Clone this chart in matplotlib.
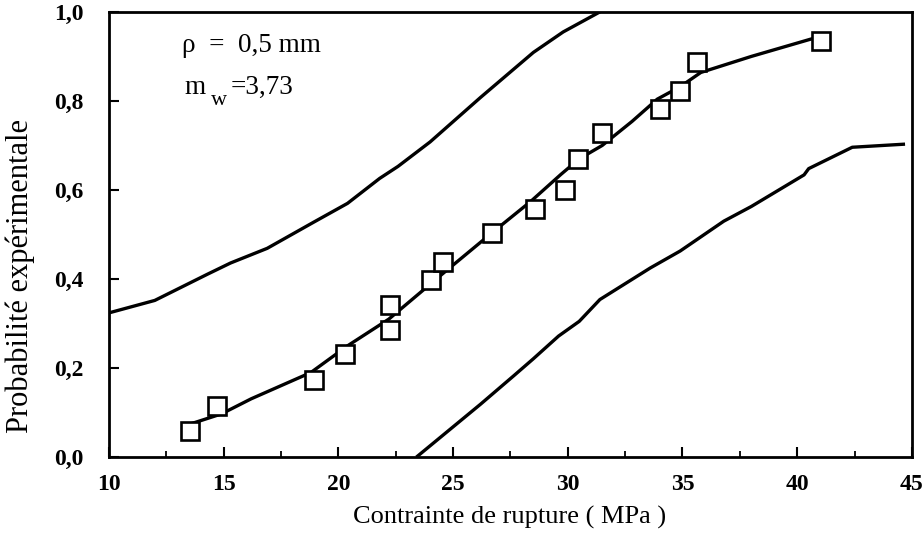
import matplotlib
matplotlib.use("Agg")
import matplotlib.pyplot as plt
from matplotlib.ticker import MultipleLocator, FuncFormatter

# Experimental points
exp_x = [13.52, 14.71, 18.93, 20.28, 22.23, 22.23, 24.06, 24.54, 26.68, 28.56,
         29.87, 30.45, 31.47, 34.02, 34.90, 35.65, 41.03]
exp_y = [0.059, 0.115, 0.173, 0.231, 0.286, 0.341, 0.398, 0.438, 0.504, 0.558,
         0.601, 0.670, 0.727, 0.781, 0.823, 0.887, 0.934]

# Fitted (middle) curve
fit_x = [13.4, 14.9, 16.2, 18.8, 20.4, 22.2, 24.5, 26.7, 28.4, 29.7, 30.5, 31.5,
         32.8, 33.9, 34.9, 35.8, 38.0, 41.0]
fit_y = [0.072, 0.097, 0.131, 0.190, 0.250, 0.310, 0.410, 0.504, 0.575, 0.635,
         0.670, 0.700, 0.754, 0.804, 0.832, 0.864, 0.900, 0.945]

# Upper bound curve
up_x = [10.0, 12.0, 14.3, 15.3, 16.9, 18.9, 20.4, 21.8, 22.6, 24.0, 26.2, 28.5, 29.8, 31.4]
up_y = [0.324, 0.352, 0.411, 0.436, 0.469, 0.527, 0.570, 0.626, 0.653, 0.708, 0.808,
        0.909, 0.955, 1.0]

# Lower bound curve
low_x = [23.4, 26.2, 27.65, 28.5, 29.6, 30.5, 31.4, 33.6, 34.9, 36.8, 38.0, 40.3,
         40.5, 42.4, 44.7]
low_y = [0.0, 0.119, 0.183, 0.221, 0.272, 0.305, 0.354, 0.425, 0.463, 0.530, 0.563,
         0.634, 0.648, 0.696, 0.703]

plt.rcParams['font.family'] = ['Liberation Serif', 'DejaVu Serif']

fig = plt.figure(figsize=(9.23, 5.41), dpi=100)
ax = fig.add_axes([0.118, 0.155, 0.870, 0.823])

lw = 2.4
ax.plot(up_x, up_y, color='black', lw=lw, solid_capstyle='butt')
ax.plot(low_x, low_y, color='black', lw=lw, solid_capstyle='butt')
ax.plot(fit_x, fit_y, color='black', lw=lw, solid_capstyle='butt')
ax.plot(exp_x, exp_y, linestyle='none', marker='s', markersize=13,
        markerfacecolor='white', markeredgecolor='black', markeredgewidth=1.9)

ax.set_xlim(10, 45)
ax.set_ylim(0, 1.0)
ax.xaxis.set_major_locator(MultipleLocator(5))
ax.xaxis.set_minor_locator(MultipleLocator(2.5))
ax.yaxis.set_major_locator(MultipleLocator(0.2))
ax.yaxis.set_major_formatter(FuncFormatter(lambda v, p: f"{v:.1f}".replace('.', ',')))

ax.tick_params(axis='both', which='major', direction='in', length=7, width=1.5,
               labelsize=17, top=False, right=False)
ax.tick_params(axis='x', which='major', pad=12)
ax.tick_params(axis='y', which='major', pad=18)
ax.tick_params(axis='x', which='minor', direction='in', length=4, width=1.3, top=False)
for lab in ax.get_xticklabels() + ax.get_yticklabels():
    lab.set_fontweight('bold')
for s in ax.spines.values():
    s.set_linewidth(2)

fig.text(0.5525, 0.043, 'Contrainte de rupture ( MPa )', fontsize=19,
         ha='center', va='center')
fig.text(0.022, 0.49, 'Probabilité expérimentale', fontsize=22,
         ha='center', va='center', rotation=90)

ax.text(13.2, 0.925, 'ρ  =  0,5 mm', fontsize=19.5, ha='left', va='center')
ax.text(13.3, 0.83, 'm', fontsize=19.5, ha='left', va='center')
ax.text(14.45, 0.80, 'w', fontsize=16, ha='left', va='center')
ax.text(15.3, 0.83, '=3,73', fontsize=19.5, ha='left', va='center')

fig.savefig('out.png', dpi=100)
